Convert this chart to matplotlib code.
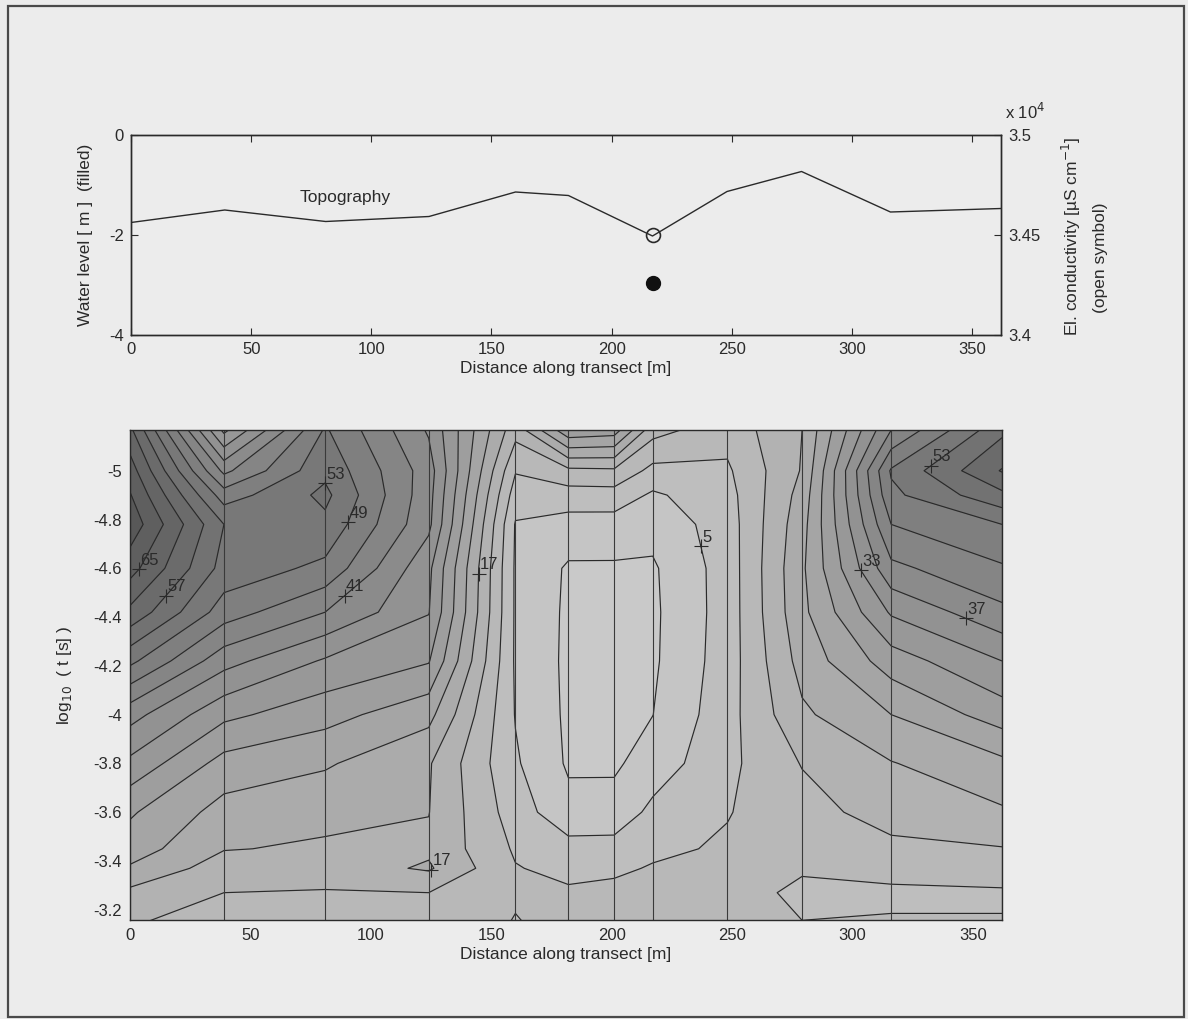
import matplotlib.pyplot as plt
import numpy as np

plt.rcParams['font.family'] = ['Liberation Sans', 'DejaVu Sans']
plt.rcParams['axes.unicode_minus'] = False

# --- upper panel: topography, water level and conductivity
topo_x = [0, 39, 81, 124, 160, 182, 217, 248, 279, 316, 362]
topo_y = [-1.75, -1.5, -1.73, -1.63, -1.14, -1.21, -2.02, -1.13, -0.73, -1.54, -1.47]
well_x = [217]
water_level = [-2.95]
conductivity = [34500]

# --- lower panel: sounding stations and time gates
stations = [0, 39, 81, 124, 160, 182, 201, 217, 248, 279, 316, 362]
log_t = [-5.167, -5.0, -4.9, -4.78, -4.6, -4.42, -4.22, -4.0, -3.8, -3.6,
         -3.45, -3.37, -3.27, -3.1]

# one row per station, values along log_t
values = [
    [62, 67, 69.3, 71.6, 66.6, 60, 50, 38.5, 32, 25.5, 23, 20.5, 16, 12.5],
    [28, 40, 47, 53, 51.5, 47, 38.5, 30, 23.5, 19.5, 17.2, 15, 13, 11],
    [49.5, 52, 54, 52, 48, 41, 32.5, 26.5, 21.5, 18, 16.5, 15, 12.7, 12],
    [36.5, 39, 38.5, 38, 34, 33.2, 29.3, 22.3, 17.4, 17.1, 16.3, 17.5, 13, 12],
    [14.5, 9.3, 7, 4.7, 4.5, 4.5, 4.5, 4.8, 5.5, 7.0, 8.5, 9.2, 9.5, 8.5],
    [28, 12, 7.2, 3.4, 0.5, 0.3, 0.2, 0.3, 0.5, 2.2, 6.5, 8, 9.5, 10],
    [27, 12.3, 7.3, 3.3, 0.5, 0.2, 0.1, 0.2, 0.4, 2.5, 6.5, 8.3, 10, 10.5],
    [14.5, 7.8, 4.4, 2.3, 0.5, 0.3, 0.4, 0.95, 2.8, 6, 8.2, 9.3, 10.5, 11],
    [10.5, 8.4, 7.5, 7, 6.8, 6.8, 7, 7.5, 8, 8.8, 9.5, 10, 11, 11.5],
    [17, 17.3, 18.5, 19.5, 20.3, 20, 18.5, 16.3, 13.2, 11.5, 10.5, 9.5, 8, 9.5],
    [41, 49.5, 48, 45, 40, 33.5, 27, 21, 16.8, 14.7, 12, 10.5, 8.2, 9.8],
    [56, 61.3, 56, 49, 44.5, 40, 33, 27, 20, 16.5, 12.8, 11, 8.5, 9.5],
]

line_levels = list(range(1, 70, 4))
fill_levels = list(range(-3, 78, 4))

# clabel spots (level, rough position) - snapped onto the contour below
label_spots = [(65, 6, -4.59), (57, 17, -4.48), (53, 79, -4.97), (49, 91, -4.79),
               (41, 91, -4.48), (17, 147, -4.58), (17, 124, -3.37), (5, 237, -4.69),
               (33, 300, -4.59), (37, 343, -4.37), (53, 334, -5.01)]

W, H = 1188, 1019
fig = plt.figure(figsize=(W / 100, H / 100), dpi=100, facecolor='#ececec')


def box(left, top, right, bottom):
    return [left / W, 1 - bottom / H, (right - left) / W, (bottom - top) / H]


def dense_points(path):
    # walk every sub-path of a contour level and fill in points along the segments
    pts = []
    run = []
    for (x, y), code in zip(path.vertices, path.codes if path.codes is not None
                            else [2] * len(path.vertices)):
        if code == 1 and run:
            pts.append(np.array(run))
            run = []
        if code != 79:
            run.append((x, y))
    if run:
        pts.append(np.array(run))
    out = []
    for r in pts:
        for a, b in zip(r[:-1], r[1:]):
            t = np.linspace(0, 1, 25)[:, None]
            out.append(a + (b - a) * t)
        if len(r) == 1:
            out.append(r)
    return np.vstack(out) if out else np.empty((0, 2))


ink = '#2a2a2a'

# frame round the whole figure
frame = plt.Rectangle((8 / W, 1 - 1017 / H), 1176 / W, 1011 / H, transform=fig.transFigure,
                      fill=False, edgecolor='#4a4a4a', lw=1.6)
fig.patches.append(frame)

# ---------------- upper panel
ax1 = fig.add_axes(box(131, 135, 1001, 335))
ax1.set_facecolor('none')
ax1.plot(topo_x, topo_y, color=ink, lw=1)
ax1.plot(well_x, water_level, 'o', color='#111111', ms=10)
ax1.text(89, -1.25, 'Topography', fontsize=12.5, ha='center', va='center', color=ink)
ax1.set_xlim(0, 362)
ax1.set_ylim(-4, 0)
ax1.set_xticks([0, 50, 100, 150, 200, 250, 300, 350])
ax1.set_yticks([-4, -2, 0])
ax1.set_yticklabels(['-4', '-2', '0'])
ax1.tick_params(direction='in', length=5, top=True, labelsize=12, colors=ink, pad=5)
ax1.set_xlabel('Distance along transect [m]', fontsize=12.5, color=ink, labelpad=3)
ax1.set_ylabel('Water level [ m ]  (filled)', fontsize=12.5, color=ink, labelpad=12)

ax2 = ax1.twinx()
ax2.plot(well_x, conductivity, 'o', mfc='none', mec=ink, mew=1.2, ms=10)
ax2.set_ylim(34000, 35000)
ax2.set_yticks([34000, 34500, 35000])
ax2.set_yticklabels(['3.4', '3.45', '3.5'])
ax2.tick_params(direction='in', length=5, labelsize=12, colors=ink, pad=5)
for a in (ax1, ax2):
    for s in a.spines.values():
        s.set_color(ink)
        s.set_linewidth(1)

fig.text(1005 / W, 1 - 112 / H, r'x 10$^{4}$', fontsize=12, color=ink, ha='left', va='center')
fig.text(1071 / W, 1 - 236 / H, r'El. conductivity [µS cm$^{-1}$]', fontsize=12.5, color=ink,
         rotation=90, ha='center', va='center')
fig.text(1100 / W, 1 - 258 / H, '(open symbol)', fontsize=12.5, color=ink,
         rotation=90, ha='center', va='center')

# ---------------- lower panel
ax = fig.add_axes(box(130, 430, 1002, 920))
X, Y = np.meshgrid(stations, log_t)
Z = np.array(values, dtype=float).T

mids = np.array(fill_levels[:-1]) + 2
greys = 0.79 - 0.45 * np.clip(mids, 0, 72) / 72
band_colors = [(g, g, g) for g in greys]
ax.contourf(X, Y, Z, levels=fill_levels, colors=band_colors)
cs = ax.contour(X, Y, Z, levels=line_levels, colors=ink, linewidths=0.85, linestyles='solid')
for x in stations:
    ax.axvline(x, color='#3a3a3a', lw=0.8)

paths = cs.get_paths()
for level, gx, gy in label_spots:
    v = dense_points(paths[line_levels.index(level)])
    if len(v) == 0:
        continue
    d = ((v[:, 0] - gx) / 362) ** 2 + ((v[:, 1] - gy) / 2.0) ** 2
    px, py = v[np.argmin(d)]
    ax.plot(px, py, '+', color=ink, ms=10, mew=0.8)
    ax.annotate(str(level), (px, py), xytext=(1, 1), textcoords='offset points',
                fontsize=12, color=ink, ha='left', va='bottom')

ax.set_xlim(0, 362)
ax.set_ylim(-3.158, -5.167)
ax.set_xticks([0, 50, 100, 150, 200, 250, 300, 350])
yt = [-5, -4.8, -4.6, -4.4, -4.2, -4, -3.8, -3.6, -3.4, -3.2]
ax.set_yticks(yt)
ax.set_yticklabels(['%g' % t for t in yt])
ax.tick_params(length=0, labelsize=12, colors=ink, pad=6)
ax.set_xlabel('Distance along transect [m]', fontsize=12.5, color=ink, labelpad=3)
ax.set_ylabel(r'log$_{10}$  ( t [s] )', fontsize=12.5, color=ink, labelpad=14)
for s in ax.spines.values():
    s.set_color(ink)
    s.set_linewidth(1)

fig.savefig('out.png', dpi=100, facecolor=fig.get_facecolor())
